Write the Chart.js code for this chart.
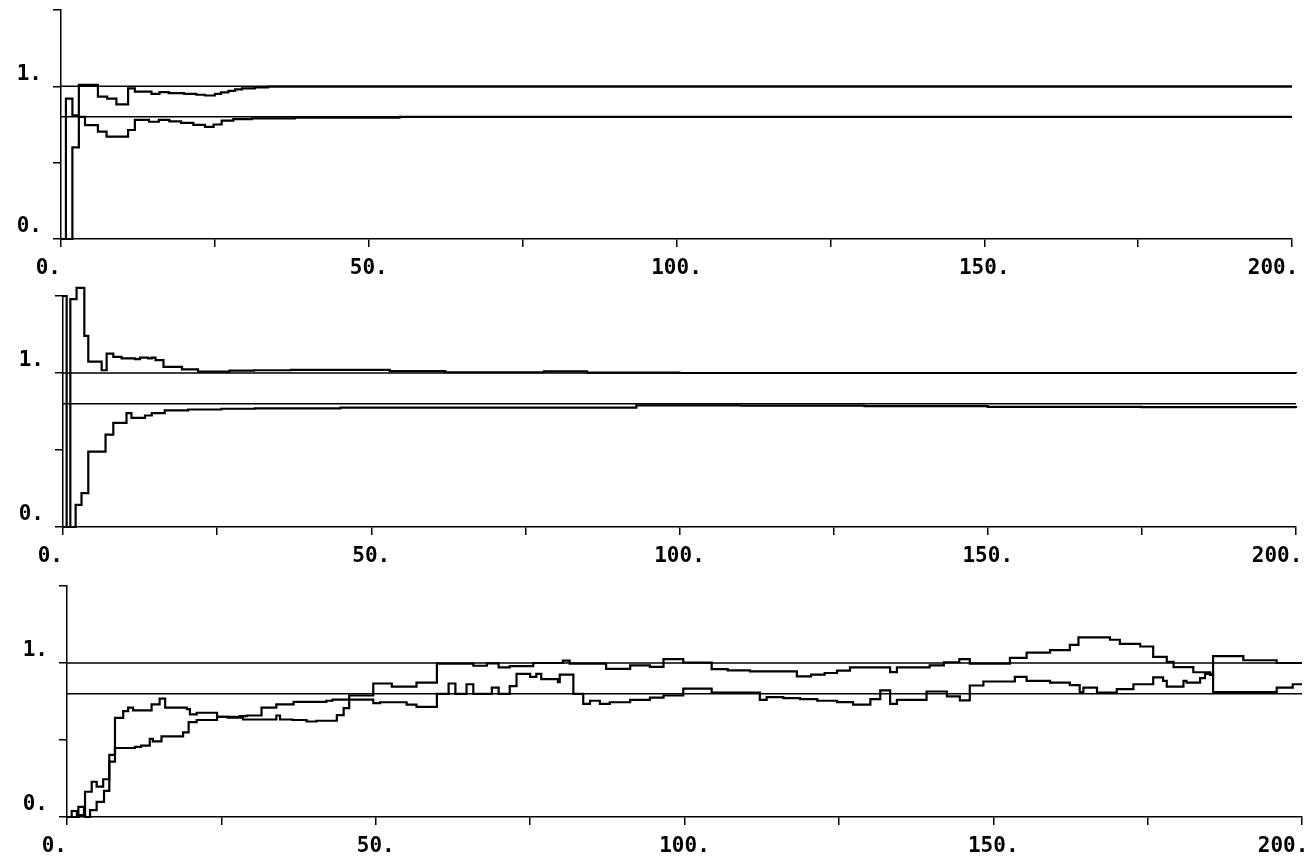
<!DOCTYPE html>
<html lang="en">
<head>
<meta charset="UTF-8">
<title>Bounds vs n</title>
<script src="https://cdn.jsdelivr.net/npm/chart.js"></script>
<style>
  body { margin: 0; background: #fff; }
  #wrap { position: relative; width: 1316px; height: 861px; }
  canvas { position: absolute; left: 0; }
</style>
</head>
<body>
<div id="wrap">
  <canvas id="c1" width="1316" height="286" style="top:0px"></canvas>
  <canvas id="c2" width="1316" height="290" style="top:286px"></canvas>
  <canvas id="c3" width="1316" height="285" style="top:576px"></canvas>
</div>
<script>
// tick labels (x every 25, labelled every 50; y every 0.5, labelled at 0 and 1)
const xTickText = ['0.  ', '', '50.', '', '100.', '', '150.', '', '200.   '];
const yTickText = ['0.', '', '1.', ''];
const refLevels = [1.0, 0.8];

// panel 1: [n, value] where the step starts
const p1Upper = [[0,0],[0.8,0.92],[1.85,0.81],[2.9,1.01],[6,0.932],[7.5,0.92],[9,0.882],[10.9,0.987],[12,0.965],[14.7,0.95],[16,0.962],[17.5,0.955],[20,0.95],[22,0.945],[23.4,0.94],[25,0.95],[26,0.96],[27.2,0.97],[28.3,0.98],[29.4,0.987],[31.5,0.993],[33.6,0.998],[200,0.998]];
const p1Lower = [[0,0],[1.85,0.6],[2.9,0.8],[3.9,0.746],[6,0.703],[7.4,0.67],[10.9,0.714],[12,0.78],[14.3,0.768],[15.9,0.78],[17.6,0.77],[19.5,0.76],[21.5,0.748],[23.4,0.735],[24.8,0.75],[26.1,0.775],[28,0.785],[31,0.79],[38,0.795],[55,0.8],[200,0.8]];

// panel 2
const p2Upper = [[0,1.5],[0.59,0],[1.19,1.48],[2.2,1.553],[3.46,1.241],[4.1,1.074],[6.27,1.018],[7.08,1.126],[8.16,1.105],[9.5,1.095],[11.7,1.09],[12.5,1.1],[13.8,1.095],[14.4,1.1],[15,1.083],[16.3,1.04],[19.3,1.024],[21.9,1.009],[27,1.015],[31,1.018],[37,1.02],[53,1.012],[62,1.005],[78,1.01],[85,1.003],[100,1.0],[200,0.998]];
const p2Lower = [[0,0],[2.05,0.1435],[3,0.22],[4.1,0.49],[6.9,0.6],[8.16,0.676],[10.3,0.74],[11.1,0.709],[13.3,0.724],[14.4,0.74],[16.5,0.757],[20.3,0.763],[25.7,0.768],[31.1,0.77],[45,0.775],[70,0.775],[93,0.79],[110,0.788],[130,0.785],[150,0.78],[175,0.778],[200,0.772]];

// panel 3
const p3Upper = [[0,0],[0.76,0.039],[1.6,0],[1.84,0.066],[2.75,0.01],[2.92,0.164],[4,0.229],[4.8,0.197],[5.86,0.245],[6.85,0.404],[7.77,0.644],[9.1,0.688],[9.9,0.71],[10.7,0.692],[13.7,0.731],[15,0.769],[15.9,0.71],[19.4,0.7],[19.9,0.666],[21,0.677],[24.3,0.651],[26,0.645],[28.5,0.633],[33.9,0.659],[34.5,0.633],[36.5,0.63],[38.8,0.62],[40.4,0.625],[43.7,0.662],[44.8,0.707],[45.7,0.789],[49.6,0.867],[52.6,0.847],[56.6,0.873],[59.9,0.996],[65.8,0.982],[68,0.998],[69.9,0.971],[71.7,0.98],[75.5,1.0],[80.3,1.016],[81.4,0.996],[87.3,0.962],[91.2,0.984],[94.4,0.975],[96.6,1.025],[99.8,1.003],[104.4,0.96],[107,0.952],[110.6,0.945],[118.2,0.913],[120.5,0.925],[122.7,0.935],[124.7,0.95],[126.8,0.972],[133.3,0.941],[134.4,0.972],[139.7,0.985],[142,1.005],[144.5,1.025],[146.2,0.996],[152.7,1.033],[155.4,1.067],[159.2,1.084],[162.4,1.118],[163.8,1.167],[168.9,1.151],[170.5,1.124],[173.8,1.107],[175.9,1.04],[178.1,1.007],[179.2,0.973],[182.4,0.94],[185.1,0.922],[185.6,1.044],[190.5,1.018],[195.9,1.0],[200,1.0]];
const p3Lower = [[0,0],[1.84,0.012],[2.92,0],[3.73,0.044],[4.8,0.098],[6,0.17],[6.85,0.36],[7.77,0.448],[11,0.455],[12,0.463],[13.4,0.507],[13.9,0.491],[15.3,0.524],[18.8,0.55],[19.7,0.616],[21,0.63],[24.3,0.651],[28,0.655],[29.1,0.659],[31.5,0.71],[33.9,0.731],[36.7,0.747],[42,0.755],[43,0.762],[49.6,0.74],[50.7,0.745],[55,0.73],[56.6,0.715],[59.9,0.8],[61.8,0.867],[62.9,0.8],[64.7,0.862],[65.8,0.8],[68.8,0.84],[69.9,0.8],[71.7,0.85],[72.8,0.93],[75,0.91],[76,0.93],[76.8,0.895],[79.5,0.875],[79.8,0.925],[82,0.8],[83.6,0.735],[84.7,0.755],[86.3,0.735],[87.9,0.745],[91.2,0.76],[94.4,0.775],[96.6,0.789],[99.8,0.833],[104.4,0.807],[112.2,0.761],[113.3,0.778],[116,0.772],[118.7,0.765],[121.5,0.755],[124.7,0.746],[127.3,0.73],[130.1,0.765],[131.7,0.822],[133.3,0.735],[134.4,0.761],[139.2,0.815],[142.5,0.783],[144.6,0.757],[146.2,0.854],[148.4,0.88],[153.5,0.91],[155.4,0.884],[159.2,0.873],[162.4,0.856],[164,0.811],[164.6,0.84],[166.8,0.807],[170,0.83],[172.7,0.862],[175.9,0.907],[177.5,0.884],[178.1,0.847],[180.8,0.884],[181.3,0.873],[183.5,0.902],[184.3,0.929],[185.6,0.811],[195.9,0.84],[198.5,0.862],[200,0.862]];

const tickFont = { family: 'DejaVu Sans Mono', size: 21, weight: 'bold' };

function toPoints(arr) {
  return arr.map(([x, y]) => ({ x, y }));
}

// area = plot area inside the canvas: left, right, top, bottom (px)
function makePanel(id, upper, lower, area) {
  const canvas = document.getElementById(id);
  const datasets = [upper, lower].map(s => ({
    data: toPoints(s), stepped: true, borderColor: '#000', borderWidth: 2.2,
    pointRadius: 0, fill: false, clip: 14
  }));
  refLevels.forEach(v => datasets.push({
    data: [{ x: 0, y: v }, { x: 200, y: v }], borderColor: '#000', borderWidth: 1.5,
    pointRadius: 0, fill: false
  }));

  new Chart(canvas, {
    type: 'line',
    data: { datasets },
    options: {
      responsive: false,
      animation: false,
      layout: { padding: { top: area.top, right: canvas.width - area.right, left: 0, bottom: 0 } },
      plugins: { legend: { display: false }, tooltip: { enabled: false } },
      scales: {
        x: {
          type: 'linear', min: 0, max: 200,
          ticks: { stepSize: 25, autoSkip: false, maxRotation: 0, color: '#000', font: tickFont, padding: 9,
                   callback: (v, i) => xTickText[i] },
          grid: { drawOnChartArea: false, tickLength: 8, color: '#000', lineWidth: 1.5 },
          border: { display: true, color: '#000', width: 1.5 },
          afterFit: s => { s.height = canvas.height - area.bottom; s.paddingLeft = 0; s.paddingRight = 0; }
        },
        y: {
          min: 0, max: 1.5,
          ticks: { stepSize: 0.5, color: '#000', font: tickFont, padding: 11, labelOffset: -12,
                   callback: (v, i) => yTickText[i] },
          grid: { drawOnChartArea: false, tickLength: 8, color: '#000', lineWidth: 1.5 },
          border: { display: true, color: '#000', width: 1.5 },
          afterFit: s => { s.width = area.left; s.paddingTop = 0; s.paddingBottom = 0; }
        }
      }
    }
  });
}

makePanel('c1', p1Upper, p1Lower, { left: 61, right: 1292, top: 10, bottom: 239 });
makePanel('c2', p2Upper, p2Lower, { left: 63, right: 1296, top: 10, bottom: 241 });
makePanel('c3', p3Upper, p3Lower, { left: 67, right: 1302, top: 10, bottom: 241 });
</script>
</body>
</html>
